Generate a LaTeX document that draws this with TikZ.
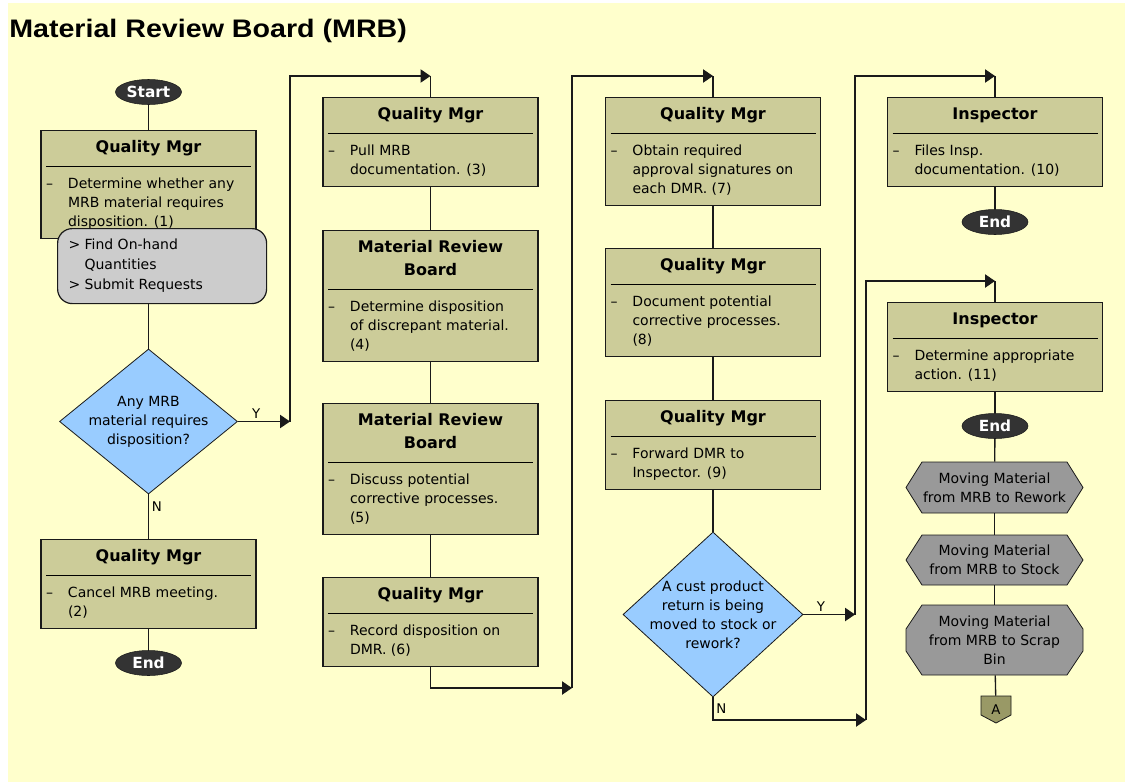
\documentclass[tikz,border=0pt]{standalone}
\usepackage{fontspec}
\setmainfont{DejaVu Sans}
\newfontfamily\titlefont[FakeStretch=1.13]{Liberation Sans}
\usetikzlibrary{shapes.geometric,arrows.meta}

\definecolor{bgyellow}{HTML}{FFFFCC}
\definecolor{taskfill}{HTML}{CCCC99}
\definecolor{decfill}{HTML}{99CCFF}
\definecolor{subfill}{HTML}{CCCCCC}
\definecolor{movefill}{HTML}{999999}
\definecolor{termfill}{HTML}{333333}
\definecolor{pagefill}{HTML}{999966}
\definecolor{inkline}{HTML}{1A1A1A}

% title above the rule, dashed step below it
\newcommand{\tasktext}[2]{%
  \parbox[t]{153.75pt}{\centering\fontsize{12}{17.25}\selectfont\bfseries
  \rule{0pt}{16.5pt}#1\rule[-9.75pt]{0pt}{9.75pt}\par
  \hrule height 0.9pt
  \raggedright\fontsize{10.5}{14.25}\selectfont\mdseries
  \hangindent=16.5pt\hangafter=1
  \rule{0pt}{16.5pt}\makebox[16.5pt][l]{--}#2\rule[-9pt]{0pt}{9pt}\par}}

\begin{document}
\begin{tikzpicture}[x=0.75pt,y=0.75pt,yscale=-1,
  flow/.style={draw=inkline, line width=1pt},
  tip/.style={-{Triangle[length=7.5pt,width=10pt]}},
  taskbox/.style={draw=inkline, fill=taskfill, line width=0.9pt, inner xsep=3.75pt, inner ysep=0pt, anchor=north},
  subbox/.style={draw=inkline, fill=subfill, line width=0.9pt, rounded corners=11pt, inner xsep=8.25pt, inner ysep=0pt, minimum width=156.75pt, minimum height=56.25pt, anchor=north west},
  decision/.style={diamond, draw=inkline, fill=decfill, line width=0.6pt, inner sep=-5pt, align=center, font=\fontsize{10.5}{14.25}\selectfont},
  terminal/.style={ellipse, draw=inkline, fill=termfill, text=white, font=\bfseries\fontsize{11.5}{12}\selectfont, inner sep=0pt, minimum width=49.5pt, minimum height=18.75pt},
  moveshape/.style={draw=inkline, fill=movefill, line width=0.6pt},
  movebox/.style={align=center, font=\fontsize{10.5}{14.25}\selectfont, minimum width=132.75pt, inner sep=0pt},
  pagebox/.style={minimum width=22.5pt, minimum height=20.25pt, inner sep=0pt, font=\fontsize{10}{12}\selectfont},
  lbl/.style={font=\fontsize{10}{12}\selectfont, inner sep=2pt}]
\useasboundingbox (0,0) rectangle (1125,782);
\fill[bgyellow] (8,3) rectangle (1125,782);
% Text Node
\node[anchor=base west, inner sep=0pt] (title) at (9,37) {\titlefont\bfseries\fontsize{19}{22}\selectfont Material Review Board (MRB)};

%Column 1
\node[terminal] (start) at (148.5,92) {Start};
\node[taskbox] (q1) at (148.5,130) {\tasktext{Quality Mgr}{Determine whether any\newline MRB material requires\newline disposition. (1)}};
\node[subbox] (sub1) at (57,228) {\parbox{140.25pt}{\fontsize{10.5}{15}\selectfont\raggedright
  \hangindent=12pt\hangafter=1\makebox[12pt][l]{>}Find On-hand\newline Quantities\par
  \makebox[12pt][l]{>}Submit Requests}};
\node[decision, aspect=1.23, minimum width=133.5pt, minimum height=108.75pt] (dec1) at (148.5,421.5) {Any MRB\\material requires\\disposition?};
\node[taskbox] (q3) at (148.5,539) {\tasktext{Quality Mgr}{Cancel MRB meeting.\newline (2)}};
\node[terminal] (end1) at (148.5,663) {End};

%Column 2
\node[taskbox] (q2) at (430.5,97) {\tasktext{Quality Mgr}{Pull MRB\newline documentation. (3)}};
\node[taskbox] (m4) at (430.5,230) {\tasktext{Material Review\\Board}{Determine disposition\newline of discrepant material.\newline (4)}};
\node[taskbox] (m5) at (430.5,403) {\tasktext{Material Review\\Board}{Discuss potential\newline corrective processes.\newline (5)}};
\node[taskbox] (q6) at (430.5,577) {\tasktext{Quality Mgr}{Record disposition on\newline DMR. (6)}};

%Column 3
\node[taskbox] (q7) at (713,97) {\tasktext{Quality Mgr}{Obtain required\newline approval signatures on\newline each DMR. (7)}};
\node[taskbox] (q8) at (713,248) {\tasktext{Quality Mgr}{Document potential\newline corrective processes.\newline (8)}};
\node[taskbox] (q9) at (713,400) {\tasktext{Quality Mgr}{Forward DMR to\newline Inspector. (9)}};
\node[decision, aspect=1.09, minimum width=135pt, minimum height=123.75pt] (dec2) at (713,614.5) {A cust product\\return is being\\moved to stock or\\rework?};

%Column 4
\node[taskbox] (i10) at (995,97) {\tasktext{Inspector}{Files Insp.\newline documentation. (10)}};
\node[terminal] (end2) at (995,222) {End};
\node[taskbox] (i11) at (995,302) {\tasktext{Inspector}{Determine appropriate\newline action. (11)}};
\node[terminal] (end3) at (995,426) {End};
%Hexagons
\draw[moveshape] (906,487.5) -- (922,462) -- (1067,462) -- (1083,487.5) -- (1067,513) -- (922,513) -- cycle;
\draw[moveshape] (906,560) -- (922,535) -- (1067,535) -- (1083,560) -- (1067,585) -- (922,585) -- cycle;
\draw[moveshape] (906,629) -- (922,605) -- (1067,605) -- (1083,629) -- (1083,651) -- (1067,675) -- (922,675) -- (906,651) -- cycle;
\node[movebox, minimum height=38.25pt] (mv1) at (994.5,487.5) {Moving Material\\from MRB to Rework};
\node[movebox, minimum height=37.5pt] (mv2) at (994.5,560) {Moving Material\\from MRB to Stock};
\node[movebox, minimum height=52.5pt] (mv3) at (994.5,640) {Moving Material\\from MRB to Scrap\\Bin};
%Off-page connector
\draw[flow, line width=0.6pt, fill=pagefill] (981,696) -- (1011,696) -- (1011,715) -- (996,723) -- (981,715) -- cycle;
\node[pagebox] (pg) at (996,709.5) {A};

%Route points
\coordinate (jy1) at (290,421.5);
\coordinate (jt1) at (430.5,76);
\coordinate (j2) at (572,688);
\coordinate (jt2) at (713,76);
\coordinate (jy2) at (855,614.5);
\coordinate (jt3) at (995,76);
\coordinate (jn2) at (866,720);
\coordinate (jt4) at (995,281);

%Straight Lines
\draw[flow] (start) -- (q1);
\draw[flow] (dec1.north |- sub1.south) -- (dec1);
\draw[flow,tip] (dec1.east) -- node[lbl,pos=0.35,above]{Y} (jy1);
\draw[flow,tip] (jy1) |- (jt1);
\draw[flow] (jt1) -- (q2);
\draw[flow] (dec1.south) -- node[lbl,pos=0.27,right]{N} (q3);
\draw[flow] (q3) -- (end1);
\draw[flow] (q2) -- (m4);
\draw[flow] (m4) -- (m5);
\draw[flow] (m5) -- (q6);
\draw[flow,tip] (q6.south) |- (j2);
\draw[flow,tip] (j2) |- (jt2);
\draw[flow] (jt2) -- (q7);
\draw[flow] (q7) -- (q8);
\draw[flow] (q8) -- (q9);
\draw[flow] (q9) -- (dec2);
\draw[flow,tip] (dec2.east) -- node[lbl,pos=0.34,above]{Y} (jy2);
\draw[flow,tip] (jy2) |- (jt3);
\draw[flow] (jt3) -- (i10);
\draw[flow,tip] (dec2.south) |- node[lbl,pos=0.24,right]{N} (jn2);
\draw[flow,tip] (jn2) |- (jt4);
\draw[flow] (jt4) -- (i11);
\draw[flow] (i10) -- (end2);
\draw[flow] (i11) -- (end3);
\draw[flow] (end3) -- (mv1);
\draw[flow] (mv1) -- (mv2);
\draw[flow] (mv2) -- (mv3);
\draw[flow] (mv3) -- (pg);
\end{tikzpicture}
\end{document}
